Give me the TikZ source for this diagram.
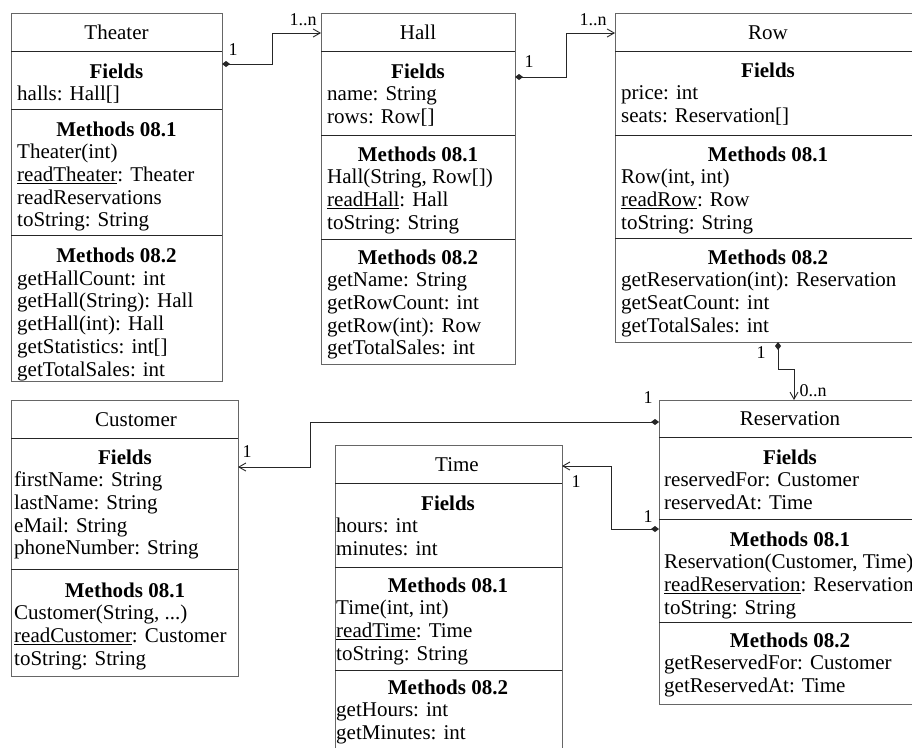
\documentclass[tikz,border=0pt]{standalone}
\usepackage{fontspec}
\setmainfont{Liberation Serif}
\usetikzlibrary{arrows.meta}
\tikzset{
  box/.style={draw=black!60, line width=1pt, anchor=north west, inner sep=0pt, outer sep=0pt},
  sepline/.style={draw=black!85, line width=0.9pt},
  ttl/.style={font=\fontsize{21}{24}\selectfont, anchor=base, inner sep=0pt},
  hd/.style={font=\fontsize{21}{24}\selectfont\bfseries, anchor=base, inner sep=0pt},
  itm/.style={font=\fontsize{21}{24}\selectfont, anchor=base west, inner sep=0pt},
  lbl/.style={font=\fontsize{18}{20}\selectfont, inner sep=0pt},
  assoc/.style={draw=black!85, line width=0.9pt, {Diamond[length=8pt,width=6pt]}-{Straight Barb[length=7pt,width=8pt]}},
}
\newcommand\mydots{...}
% #1 name, #2 heading centre x, #3 heading centre y, #4 items x, #5 heading, #6 items
\newcommand\compart[6]{%
  \node[hd] (#1h) at (#2,#3+7) {#5};
  \foreach \itx [count=\i] in {#6} {\node[itm] (#1\i) at (#4,#3+7+\i*22.7) {\itx};}
}
\begin{document}
\begin{tikzpicture}[x=1pt,y=-1pt]
\useasboundingbox (0,0) rectangle (912,747);
\fill[white] (0,0) rectangle (912,747);
\clip (0,0) rectangle (912,747);

% Theater
\node[box, minimum width=211pt, minimum height=368pt] (theater) at (11,13) {};
\draw[sepline] (11,51) -- (222,51) (11,109) -- (222,109) (11,235) -- (222,235);
\node[ttl] (theaterT) at (116.5,39) {Theater};
\compart{thf}{116.5}{71}{17}{Fields}{{halls: Hall[]}}
\compart{thma}{116.5}{129}{17}{Methods 08.1}{{Theater(int)},{\underline{readTheater}: Theater},{readReservations},{toString: String}}
\compart{thmb}{116.5}{255.5}{17}{Methods 08.2}{{getHallCount: int},{getHall(String): Hall},{getHall(int): Hall},{getStatistics: int[]},{getTotalSales: int}}

% Hall
\node[box, minimum width=194pt, minimum height=351pt] (hall) at (321,13) {};
\draw[sepline] (321,51) -- (515,51) (321,135) -- (515,135) (321,239) -- (515,239);
\node[ttl] (hallT) at (418,39) {Hall};
\compart{haf}{418}{71}{327}{Fields}{{name: String},{rows: Row[]}}
\compart{hama}{418}{154}{327}{Methods 08.1}{{Hall(String, Row[])},{\underline{readHall}: Hall},{toString: String}}
\compart{hamb}{418}{257}{327}{Methods 08.2}{{getName: String},{getRowCount: int},{getRow(int): Row},{getTotalSales: int}}

% Row
\node[box, minimum width=306pt, minimum height=329pt] (row) at (615,13) {};
\draw[sepline] (615,51) -- (921,51) (615,135) -- (921,135) (615,238) -- (921,238);
\node[ttl] (rowT) at (768,39) {Row};
\compart{rof}{768}{70}{621}{Fields}{{price: int},{seats: Reservation[]}}
\compart{roma}{768}{154}{621}{Methods 08.1}{{Row(int, int)},{\underline{readRow}: Row},{toString: String}}
\compart{romb}{768}{257}{621}{Methods 08.2}{{getReservation(int): Reservation},{getSeatCount: int},{getTotalSales: int}}

% Reservation
\node[box, minimum width=262pt, minimum height=304pt] (res) at (659,400) {};
\draw[sepline] (659,437) -- (921,437) (659,519) -- (921,519) (659,622) -- (921,622);
\node[ttl] (resT) at (790,425.5) {Reservation};
\compart{ref}{790}{457}{664}{Fields}{{reservedFor: Customer},{reservedAt: Time}}
\compart{rema}{790}{539}{664}{Methods 08.1}{{Reservation(Customer, Time)},{\underline{readReservation}: Reservation},{toString: String}}
\compart{remb}{790}{640}{664}{Methods 08.2}{{getReservedFor: Customer},{getReservedAt: Time}}

% Customer
\node[box, minimum width=227pt, minimum height=276pt] (cust) at (11,400) {};
\draw[sepline] (11,438) -- (238,438) (11,569) -- (238,569);
\node[ttl] (custT) at (136,426) {Customer};
\compart{cuf}{125}{457}{14}{Fields}{{firstName: String},{lastName: String},{eMail: String},{phoneNumber: String}}
\compart{cuma}{125}{590}{14}{Methods 08.1}{{Customer(String, \mydots)},{\underline{readCustomer}: Customer},{toString: String}}

% Time
\node[box, minimum width=227pt, minimum height=320pt] (time) at (335,445) {};
\draw[sepline] (335,483) -- (562,483) (335,567) -- (562,567) (335,670) -- (562,670);
\node[ttl] (timeT) at (457,471) {Time};
\compart{tif}{448}{503}{336}{Fields}{{hours: int},{minutes: int}}
\compart{tima}{448}{585}{336}{Methods 08.1}{{Time(int, int)},{\underline{readTime}: Time},{toString: String}}
\compart{timb}{448}{687}{336}{Methods 08.2}{{getHours: int},{getMinutes: int}}

% Connectors
\draw[assoc] ([yshift=-51pt]theater.north east) -- ++(50,0) |- ([yshift=-20pt]hall.north west);
\draw[assoc] ([yshift=-64pt]hall.north east) -- ++(51,0) |- ([yshift=-20pt]row.north west);
\draw[assoc] ([xshift=163pt]row.south west) -- ++(0,27) -| ([xshift=135pt]res.north west);
\draw[assoc] ([yshift=-22pt]res.north west) -- ++(-349,0) |- ([yshift=-67pt]cust.north east);
\draw[assoc] ([yshift=-129pt]res.north west) -- ++(-48,0) |- ([yshift=-21pt]time.north east);

% Multiplicities
\node[lbl] (m1a) at (233,50) {1};
\node[lbl] (m1b) at (303,20) {1..n};
\node[lbl] (m2a) at (529,62) {1};
\node[lbl] (m2b) at (593,20) {1..n};
\node[lbl] (m3a) at (761,353) {1};
\node[lbl] (m3b) at (813,391) {0..n};
\node[lbl] (m4a) at (648,398) {1};
\node[lbl] (m4b) at (247,452) {1};
\node[lbl] (m5a) at (648,517) {1};
\node[lbl] (m5b) at (576,482) {1};
\end{tikzpicture}
\end{document}
